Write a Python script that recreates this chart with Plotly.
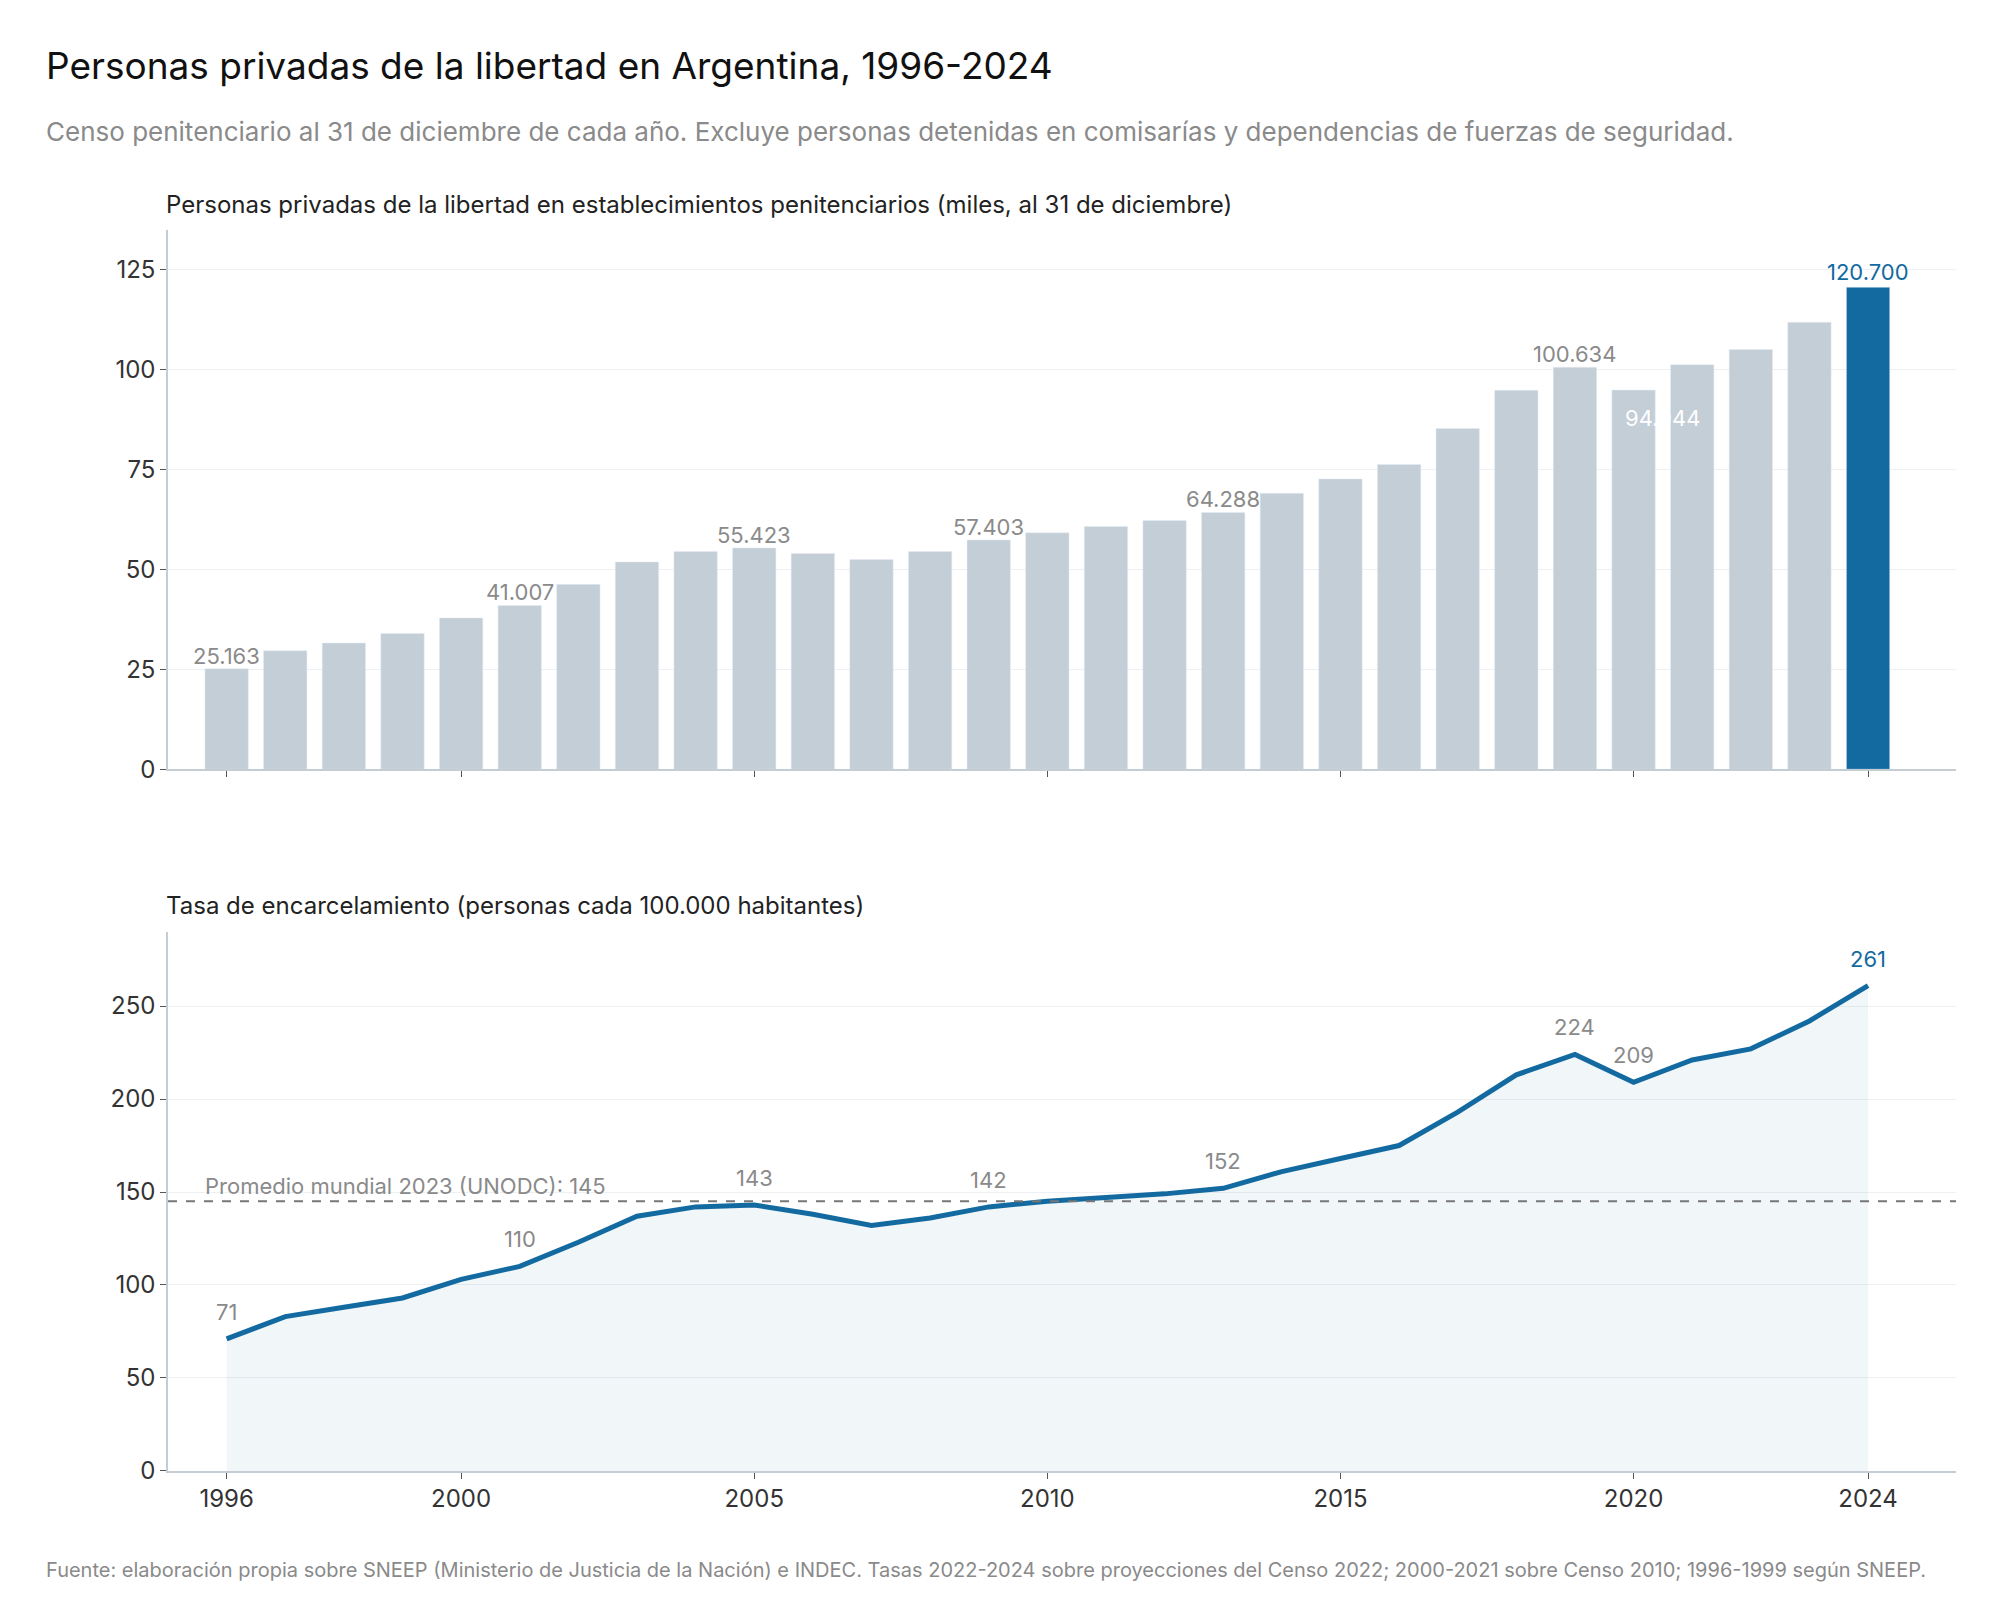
import plotly.graph_objects as go
from plotly.subplots import make_subplots

years = list(range(1996, 2025))
presos_miles = [25.163, 29.7, 31.6, 34.0, 37.9, 41.007, 46.3, 51.9, 54.5, 55.423,
                54.0, 52.5, 54.5, 57.403, 59.2, 60.8, 62.3, 64.288, 69.1, 72.7,
                76.3, 85.3, 94.9, 100.634, 94.944, 101.3, 105.1, 111.9, 120.700]
tasa = [71, 83, 88, 93, 103, 110, 123, 137, 142, 143, 138, 132, 136, 142, 145,
        147, 149, 152, 161, 168, 175, 193, 213, 224, 209, 221, 227, 242, 261]
label_years_bar = [1996, 2001, 2005, 2009, 2013, 2019]
label_years_line = [1996, 2001, 2005, 2009, 2013, 2019, 2020]
promedio_mundial = 145
tick_years = [1996, 2000, 2005, 2010, 2015, 2020, 2024]

GREY = "#c4ced6"
BLUE = "#136aa0"
TXT = "#8a8a8a"
FONT = "Inter"

fig = make_subplots(rows=2, cols=1)

bar_colors = [BLUE if y == 2024 else GREY for y in years]
fig.add_trace(go.Bar(x=years, y=presos_miles, marker_color=bar_colors, width=0.74,
                     hoverinfo="x+y"), row=1, col=1)
fig.add_trace(go.Scatter(x=years, y=tasa, mode="lines", line=dict(color=BLUE, width=5),
                         fill="tozeroy", fillcolor="rgba(19,106,160,0.06)"), row=2, col=1)
fig.add_trace(go.Scatter(x=[1995, 2025.5], y=[promedio_mundial] * 2, mode="lines",
                         line=dict(color="#777", width=2, dash="dash")), row=2, col=1)

def fmt(v):
    return f"{v:.3f}"

for y, v in zip(years, presos_miles):
    if y in label_years_bar:
        fig.add_annotation(x=y, y=v, text=fmt(v), showarrow=False, yshift=13,
                           font=dict(size=22, color=TXT), xref="x", yref="y")
fig.add_annotation(x=2020.5, y=88, text=fmt(presos_miles[years.index(2020)]), showarrow=False,
                   font=dict(size=22, color="white"), xref="x", yref="y")
fig.add_annotation(x=2024, y=presos_miles[-1], text=fmt(presos_miles[-1]), showarrow=False,
                   yshift=15, font=dict(size=22, color=BLUE), xref="x", yref="y")

for y, v in zip(years, tasa):
    if y in label_years_line:
        fig.add_annotation(x=y, y=v, text=str(v), showarrow=False, yshift=27,
                           font=dict(size=22, color=TXT), xref="x2", yref="y2")
fig.add_annotation(x=2024, y=tasa[-1], text=str(tasa[-1]), showarrow=False, yshift=27,
                   font=dict(size=22, color=BLUE), xref="x2", yref="y2")
fig.add_annotation(x=1995.6, y=promedio_mundial, text=f"Promedio mundial 2023 (UNODC): {promedio_mundial}",
                   showarrow=False, xanchor="left", yshift=15, font=dict(size=22, color=TXT),
                   xref="x2", yref="y2")

axis_common = dict(range=[1995, 2025.5], tickvals=tick_years, ticks="outside", ticklen=6,
                   tickcolor="#555", showline=True, linecolor="#c4ccd4", linewidth=1.5,
                   showgrid=False, zeroline=False)
fig.update_xaxes(axis_common, domain=[0.08, 0.974])
fig.update_xaxes(showticklabels=False, row=1, col=1)
fig.update_xaxes(tickfont=dict(size=24, color="#333"), row=2, col=1)
yaxis_common = dict(ticks="outside", ticklen=6, tickcolor="#555", showline=True,
                    linecolor="#c4ccd4", linewidth=1.5, gridcolor="#eef1f3",
                    zeroline=False, tickfont=dict(size=24, color="#333"))
fig.update_yaxes(yaxis_common, range=[0, 135], tickvals=[0, 25, 50, 75, 100, 125],
                 domain=[0.52, 0.86], row=1, col=1)
fig.update_yaxes(yaxis_common, range=[0, 290], tickvals=[0, 50, 100, 150, 200, 250],
                 domain=[0.0776, 0.4176], row=2, col=1)

def paper_text(x, y, text, size, color):
    fig.add_annotation(x=x, y=y, xref="paper", yref="paper", text=text, showarrow=False,
                       xanchor="left", yanchor="middle", font=dict(size=size, color=color))

paper_text(0.018, 0.964, "Personas privadas de la libertad en Argentina, 1996-2024", 37, "#111")
paper_text(0.018, 0.922, "Censo penitenciario al 31 de diciembre de cada año. Excluye personas detenidas "
           "en comisarías y dependencias de fuerzas de seguridad.", 26, TXT)
paper_text(0.078, 0.876, "Personas privadas de la libertad en establecimientos penitenciarios "
           "(miles, al 31 de diciembre)", 24, "#222")
paper_text(0.078, 0.434, "Tasa de encarcelamiento (personas cada 100.000 habitantes)", 24, "#222")
paper_text(0.018, 0.015, "Fuente: elaboración propia sobre SNEEP (Ministerio de Justicia de la Nación) e INDEC. "
           "Tasas 2022-2024 sobre proyecciones del Censo 2022; 2000-2021 sobre Censo 2010; 1996-1999 según SNEEP.",
           20, TXT)

fig.update_layout(width=2000, height=1600, margin=dict(l=0, r=0, t=0, b=0),
                  plot_bgcolor="white", paper_bgcolor="white", showlegend=False,
                  font=dict(family=FONT, color="#333"))
fig.write_html("out.html")
